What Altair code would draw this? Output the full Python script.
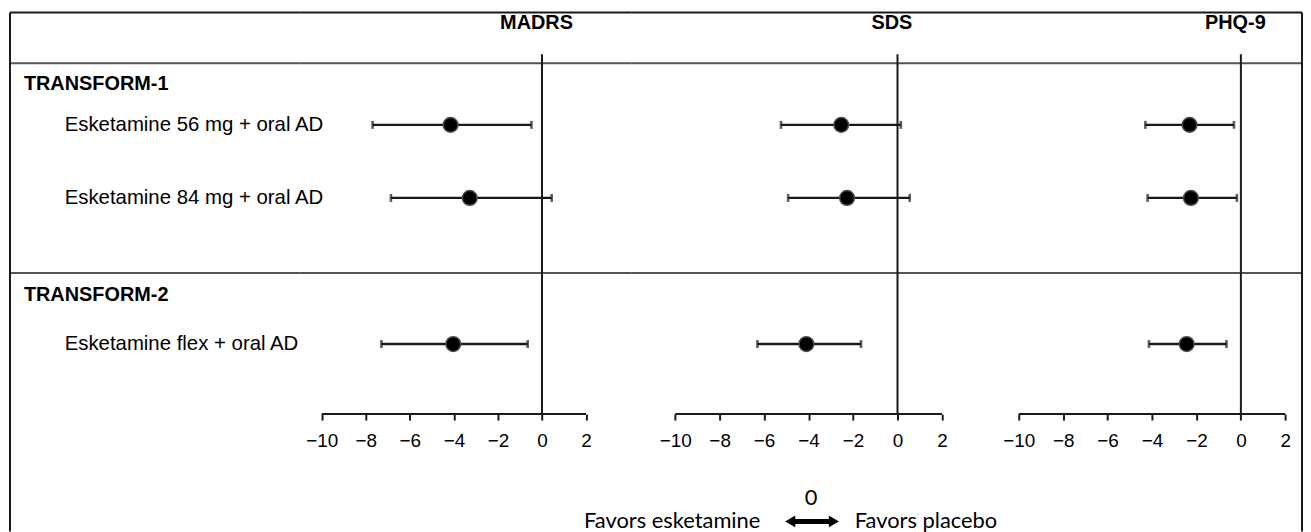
import altair as alt
import pandas as pd

# ---------------- data ----------------
STUDIES = ["TRANSFORM-1", "TRANSFORM-1", "TRANSFORM-2"]
ARMS = ["Esketamine 56 mg + oral AD", "Esketamine 84 mg + oral AD", "Esketamine flex + oral AD"]
MEASURES = ["MADRS", "SDS", "PHQ-9"]
MADRS_EST = [-4.15, -3.28, -4.03]
MADRS_LO = [-7.69, -6.86, -7.29]
MADRS_HI = [-0.48, 0.44, -0.65]
SDS_EST = [-2.53, -2.27, -4.10]
SDS_LO = [-5.24, -4.92, -6.30]
SDS_HI = [0.15, 0.55, -1.64]
PHQ_EST = [-2.31, -2.25, -2.44]
PHQ_LO = [-4.30, -4.20, -4.14]
PHQ_HI = [-0.31, -0.18, -0.65]
TICKS = [-10, -8, -6, -4, -2, 0, 2]
LEGEND_ZERO = "0"
LEGEND_LEFT = "Favors esketamine"
LEGEND_RIGHT = "Favors placebo"

# ---------------- layout / style ----------------
FONT = "Liberation Sans"
LEG_FONT = "Lato"
INK = "#1a1a1a"
SEP = "#555555"
H = 522
LABEL_W = 291
PANEL_W = {"MADRS": 334, "SDS": 351, "PHQ-9": 324}
PANEL_DOM = {"MADRS": [-11.024, 4.048], "SDS": [-11.98, 3.71], "PHQ-9": [-11.745, 2.752]}
Y_DOMAIN = [-0.537, 6.565]
HEADER_SLOT = {"TRANSFORM-1": 0.442, "TRANSFORM-2": 3.327}
SEP_Y = [51, 262]
AXIS_Y = 404

values = {
    "MADRS": (MADRS_EST, MADRS_LO, MADRS_HI),
    "SDS": (SDS_EST, SDS_LO, SDS_HI),
    "PHQ-9": (PHQ_EST, PHQ_LO, PHQ_HI),
}
study_order = list(dict.fromkeys(STUDIES))
rows = []
for m in MEASURES:
    est, lo, hi = values[m]
    for i, arm in enumerate(ARMS):
        rows.append(dict(measure=m, study=STUDIES[i], arm=arm, est=est[i], lo=lo[i], hi=hi[i],
                         slot=i + 1 + study_order.index(STUDIES[i])))
df = pd.DataFrame(rows)
arm_df = df[df.measure == MEASURES[0]][["arm", "slot"]]
head_df = pd.DataFrame({"study": study_order, "slot": [HEADER_SLOT[s] for s in study_order]})
one = pd.DataFrame({"k": [0]})

ys = alt.Scale(domain=Y_DOMAIN, reverse=True, nice=False, zero=False)


def hlines(width):
    layers = []
    top = alt.Chart(one).mark_rule(color=INK, strokeWidth=2).encode(
        x=alt.value(0), x2=alt.value(width), y=alt.value(0))
    layers.append(top)
    for yv in SEP_Y:
        layers.append(alt.Chart(one).mark_rule(color=SEP, strokeWidth=2).encode(
            x=alt.value(0), x2=alt.value(width), y=alt.value(yv)))
    return layers


# label panel
label_layers = hlines(LABEL_W)
label_layers.append(alt.Chart(one).mark_rule(color=INK, strokeWidth=2).encode(
    x=alt.value(0), y=alt.value(0), y2=alt.value(H)))
label_layers.append(alt.Chart(head_df).mark_text(
    align="left", baseline="middle", font=FONT, fontSize=20, fontWeight="bold", color="black"
).encode(x=alt.value(14), y=alt.Y("slot:Q", scale=ys, axis=None), text="study:N"))
label_layers.append(alt.Chart(arm_df).mark_text(
    align="left", baseline="middle", font=FONT, fontSize=20.5, color="black"
).encode(x=alt.value(55), y=alt.Y("slot:Q", scale=ys, axis=None), text="arm:N"))
label_panel = alt.layer(*label_layers).properties(width=LABEL_W, height=H)


def panel(measure, right_border=False, legend=False):
    w = PANEL_W[measure]
    xs = alt.Scale(domain=PANEL_DOM[measure], nice=False, zero=False)
    ax = alt.Axis(values=TICKS, orient="bottom", offset=AXIS_Y - H, domain=False, grid=False,
                  tickSize=6, tickWidth=2, tickColor=INK, labelFontSize=19, labelFont=FONT,
                  labelColor="black", labelPadding=12, labelFlush=False, labelOverlap=False, title=None)
    sub = df[df.measure == measure]
    layers = hlines(w)
    layers.append(alt.Chart(one).mark_rule(color=INK, strokeWidth=2).encode(
        x=alt.XDatum(0, type="quantitative", scale=xs, axis=ax),
        y=alt.value(42), y2=alt.value(AXIS_Y)))
    layers.append(alt.Chart(one).mark_rule(color=INK, strokeWidth=2).encode(
        x=alt.XDatum(TICKS[0], type="quantitative", scale=xs, axis=ax),
        x2=alt.X2Datum(TICKS[-1]), y=alt.value(AXIS_Y)))
    layers.append(alt.Chart(pd.DataFrame({"measure": [measure]})).mark_text(
        font=FONT, fontSize=20, fontWeight="bold", color="black", baseline="middle", align="center"
    ).encode(x=alt.XDatum(-0.25, type="quantitative", scale=xs, axis=ax), y=alt.value(11), text="measure:N"))
    base = alt.Chart(sub)
    layers.append(base.mark_rule(color=INK, strokeWidth=2.4).encode(
        x=alt.X("lo:Q", scale=xs, axis=ax), x2="hi:Q", y=alt.Y("slot:Q", scale=ys, axis=None)))
    layers.append(base.mark_tick(color=INK, thickness=2.6, size=8, orient="vertical").encode(
        x=alt.X("lo:Q", scale=xs, axis=ax), y=alt.Y("slot:Q", scale=ys, axis=None)))
    layers.append(base.mark_tick(color=INK, thickness=2.6, size=8, orient="vertical").encode(
        x=alt.X("hi:Q", scale=xs, axis=ax), y=alt.Y("slot:Q", scale=ys, axis=None)))
    layers.append(base.mark_circle(size=220, color="black", opacity=1, stroke="#4a4a4a", strokeWidth=1.5).encode(
        x=alt.X("est:Q", scale=xs, axis=ax), y=alt.Y("slot:Q", scale=ys, axis=None)))
    if right_border:
        layers.append(alt.Chart(one).mark_rule(color=INK, strokeWidth=2).encode(
            x=alt.value(w), y=alt.value(0), y2=alt.value(H)))
    if legend:
        ly = 512
        layers.append(alt.Chart(pd.DataFrame({"t": [LEGEND_ZERO]})).mark_text(
            font=LEG_FONT, fontSize=22, color="black", align="center", baseline="middle"
        ).encode(x=alt.value(181), y=alt.value(488), text="t:N"))
        layers.append(alt.Chart(pd.DataFrame({"t": [LEGEND_LEFT]})).mark_text(
            font=LEG_FONT, fontSize=22, color="black", align="right", baseline="middle"
        ).encode(x=alt.value(130), y=alt.value(ly), text="t:N"))
        layers.append(alt.Chart(pd.DataFrame({"t": [LEGEND_RIGHT]})).mark_text(
            font=LEG_FONT, fontSize=22, color="black", align="left", baseline="middle"
        ).encode(x=alt.value(225), y=alt.value(ly), text="t:N"))
        layers.append(alt.Chart(one).mark_rule(color="black", strokeWidth=5).encode(
            x=alt.value(162), x2=alt.value(202), y=alt.value(ly)))
        layers.append(alt.Chart(one).mark_point(shape="triangle-left", filled=True, size=140,
                                                color="black", opacity=1).encode(
            x=alt.value(160), y=alt.value(ly)))
        layers.append(alt.Chart(one).mark_point(shape="triangle-right", filled=True, size=140,
                                                color="black", opacity=1).encode(
            x=alt.value(204), y=alt.value(ly)))
    return alt.layer(*layers).properties(width=w, height=H)


chart = alt.hconcat(
    label_panel,
    panel("MADRS"),
    panel("SDS", legend=True),
    panel("PHQ-9", right_border=True),
    spacing=0,
    bounds="flush",
    padding={"left": 1, "top": 2, "right": 0, "bottom": 0},
    background="white",
).configure_view(stroke=None)

chart.save("out.html", embed_options={"renderer": "svg", "actions": False})
